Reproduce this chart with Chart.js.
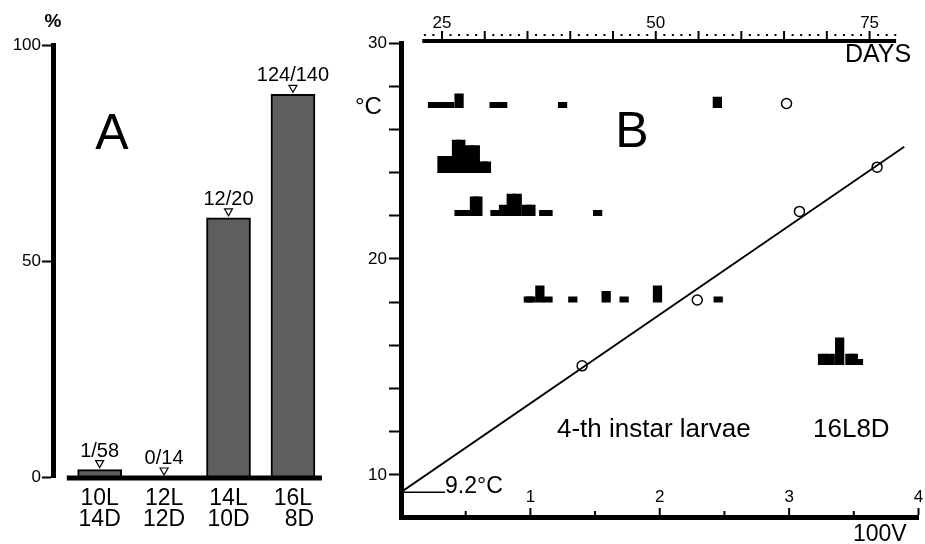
<!DOCTYPE html>
<html lang="en">
<head>
<meta charset="UTF-8">
<title>Photoperiod response and development of 4-th instar larvae</title>
<script src="https://cdn.jsdelivr.net/npm/chart.js"></script>
<style>
  body { margin: 0; background: #fff; font-family: 'Liberation Sans', Arial, sans-serif; }
  #wrap { position: relative; width: 925px; height: 544px; overflow: hidden; }
  #chartA { position: absolute; left: 0; top: 0; }
  #chartB { position: absolute; left: 340px; top: 0; }
  .note { position: absolute; color: #000; white-space: nowrap; line-height: 1; }
  .c { transform: translateX(-50%); }
</style>
</head>
<body>
<div id="wrap">
  <canvas id="chartA" width="340" height="544"></canvas>
  <canvas id="chartB" width="585" height="544"></canvas>

  <div class="note c" style="left:53px;top:11px;font-size:19px;font-weight:bold">%</div>
  <div class="note c" style="left:112px;top:107px;font-size:50px">A</div>
  <div class="note c" style="left:632px;top:105px;font-size:50px">B</div>
  <div class="note" style="left:355px;top:94px;font-size:24px">°C</div>
  <div class="note" style="left:845px;top:41px;font-size:25px">DAYS</div>
  <div class="note" style="left:853px;top:522px;font-size:23px">100V</div>
  <div class="note" style="left:445px;top:474px;font-size:23px">9.2°C</div>
  <div class="note" style="left:557px;top:415px;font-size:26px">4-th instar larvae</div>
  <div class="note" style="left:813px;top:415px;font-size:26px">16L8D</div>
</div>

<script>
    // ---- panel A : diapause (%) under four photoperiods ----
    const lightHours = ['10L', '12L', '14L', '16L'];
    const darkHours = ['14D', '12D', '10D', '\u20078D'];
    const diapauseCount = [1, 0, 12, 124];
    const sampleSize = [58, 14, 20, 140];
    const treatmentPos = [1, 2, 3, 4];
    const pctTicks = [0, 50, 100];

    // ---- panel B : development at 16L8D ----
    // open circles: velocity (100/days) against temperature
    const circleV = [1.40, 2.29, 3.08, 3.68, 2.98];
    const circleT = [15.05, 18.1, 22.2, 24.25, 27.2];
    // fitted line and threshold 9.2 °C
    const lineV = [0, 3.89];
    const lineT = [9.2, 25.2];
    const thresholdV = [0, 0.34];
    const thresholdT = [9.2, 9.2];
    // histograms of days needed, one per temperature (height = number of larvae)
    const histBaseT = [27, 24, 22, 18, 15.1];
    const hist27Days = [23.9, 24.9, 25.9, 27.0, 31.1, 32.1, 39.1, 57.2];
    const hist27Counts = [1, 1, 1, 2.6, 1, 1, 1, 2];
    const hist24Days = [25.0, 25.7, 26.7, 27.2, 28.2, 28.9, 29.8, 30.2];
    const hist24Counts = [3, 3, 6, 6, 5, 5, 2, 2];
    const hist22Days = [27.0, 27.8, 28.8, 29.2, 31.2, 32.2, 33.1, 33.8, 34.9, 35.4, 36.9, 37.4, 43.2];
    const hist22Counts = [1, 1, 3.5, 3.5, 1, 2, 4, 4, 2, 2, 1, 1, 1];
    const hist18Days = [35.1, 35.4, 36.45, 37.4, 40.3, 44.2, 46.3, 50.2, 57.3];
    const hist18Counts = [1, 1, 3, 1, 1, 2, 1, 3, 1];
    const hist15Days = [69.5, 70.4, 71.5, 72.7, 73.1, 73.7];
    const hist15Counts = [2, 2, 5, 2, 2, 1];

    const tempTicks = [10, 12, 14, 16, 18, 20, 22, 24, 26, 28, 30];
    const velocityTicks = [0.5, 1, 1.5, 2, 2.5, 3, 3.5, 4];
    const dayLabels = [25, 50, 75];
    const dayAxisFrom = 22.7, dayAxisTo = 78.1;

    const FONT = "'Liberation Sans', Arial, sans-serif";
    Chart.defaults.font.family = FONT;
    Chart.defaults.color = '#000';
    Chart.defaults.animation = false;
    Chart.defaults.plugins.legend.display = false;
    Chart.defaults.plugins.tooltip.enabled = false;

    const diapausePct = diapauseCount.map((n, i) => n / sampleSize[i] * 100);

    // thick baseline of panel A, shorter than the plot
    const baselineA = {
        id: 'baselineA',
        afterDatasetsDraw(chart) {
            const {ctx, scales: {x, y}} = chart;
            ctx.save();
            ctx.strokeStyle = '#000';
            ctx.lineWidth = 5;
            ctx.beginPath();
            ctx.moveTo(x.getPixelForValue(0.49), y.getPixelForValue(0) + 1);
            ctx.lineTo(x.getPixelForValue(4.45), y.getPixelForValue(0) + 1);
            ctx.stroke();
            ctx.restore();
        }
    };

    // "n/N" and small open triangle above every bar
    const barLabels = {
        id: 'barLabels',
        afterDatasetsDraw(chart) {
            const ctx = chart.ctx;
            const meta = chart.getDatasetMeta(0);
            ctx.save();
            ctx.fillStyle = '#000';
            ctx.strokeStyle = '#000';
            ctx.lineWidth = 1.2;
            ctx.font = '20px ' + FONT;
            ctx.textAlign = 'center';
            ctx.textBaseline = 'alphabetic';
            meta.data.forEach((bar, i) => {
                const x = bar.x, top = bar.y;
                ctx.beginPath();
                ctx.moveTo(x - 4, top - 9);
                ctx.lineTo(x + 4, top - 9);
                ctx.lineTo(x, top - 2);
                ctx.closePath();
                ctx.stroke();
                ctx.fillText(diapauseCount[i] + '/' + sampleSize[i], x, top - 13);
            });
            ctx.restore();
        }
    };

    new Chart(document.getElementById('chartA'), {
        type: 'bar',
        data: {
            datasets: [{
                data: treatmentPos.map((x, i) => ({x: x, y: diapausePct[i]})),
                backgroundColor: '#5e5e5e',
                borderColor: '#000',
                borderWidth: 2,
                barThickness: 44
            }]
        },
        options: {
            responsive: false,
            layout: {padding: {left: 0, top: 45, right: 10, bottom: 0}},
            scales: {
                x: {
                    type: 'linear', min: 0.276, max: 4.575, offset: false,
                    afterFit: s => { s.height = 67; },
                    afterBuildTicks: s => { s.ticks = treatmentPos.map(v => ({value: v})); },
                    grid: {display: false, drawTicks: false, tickLength: 0, offset: false},
                    border: {display: false},
                    ticks: {
                        padding: 11, autoSkip: false, maxRotation: 0,
                        font: {size: 23, lineHeight: 0.92},
                        callback: (v, i) => [lightHours[i], darkHours[i]]
                    }
                },
                y: {
                    min: 0, max: 100,
                    afterFit: s => { s.width = 53; },
                    afterBuildTicks: s => { s.ticks = pctTicks.map(v => ({value: v})); },
                    grid: {drawOnChartArea: false, tickLength: 11, tickWidth: 2, tickColor: '#000'},
                    border: {color: '#000', width: 5},
                    ticks: {padding: 1, font: {size: 17}}
                }
            }
        },
        plugins: [baselineA, barLabels]
    });

    // upper DAYS axis (dotted every day, tick every 5 days) and the
    // inward ticks / labels of the lower 100V axis
    const extraAxes = {
        id: 'extraAxes',
        afterDraw(chart) {
            const ctx = chart.ctx, s = chart.scales.xd, v = chart.scales.xv;
            const yLine = 41;
            ctx.save();
            ctx.strokeStyle = '#000';
            ctx.fillStyle = '#000';
            ctx.lineWidth = 4;
            ctx.beginPath();
            ctx.moveTo(s.getPixelForValue(dayAxisFrom), yLine);
            ctx.lineTo(s.getPixelForValue(dayAxisTo), yLine);
            ctx.stroke();
            ctx.lineWidth = 2;
            for (let d = Math.ceil(dayAxisFrom); d <= dayAxisTo; d++) {
                const x = s.getPixelForValue(d);
                if (d % 5 === 0) {
                    ctx.beginPath();
                    ctx.moveTo(x, yLine);
                    ctx.lineTo(x, yLine - 10);
                    ctx.stroke();
                } else {
                    ctx.fillRect(x - 1, yLine - 7, 2, 2);
                }
            }
            ctx.font = '17px ' + FONT;
            ctx.textAlign = 'center';
            ctx.textBaseline = 'middle';
            dayLabels.forEach(d => ctx.fillText(String(d), s.getPixelForValue(d), 23));

            const yBase = v.top - 2;
            velocityTicks.forEach(t => {
                const x = v.getPixelForValue(t);
                const major = Number.isInteger(t);
                ctx.beginPath();
                ctx.moveTo(x, yBase);
                ctx.lineTo(x, yBase - (major ? 7 : 4));
                ctx.stroke();
                if (major) ctx.fillText(String(t), x, 497);
            });
            ctx.restore();
        }
    };

    const unitT = 0.25;  // °C of plot height for one larva
    function histDataset(base, days, counts) {
        return {
            type: 'bar', xAxisID: 'xd', yAxisID: 'y',
            grouped: false, barThickness: 8.6,
            backgroundColor: '#000', borderWidth: 0,
            data: days.map((d, i) => ({x: d, y: [base, base + counts[i] * unitT]}))
        };
    }

    new Chart(document.getElementById('chartB'), {
        type: 'bar',
        data: {
            datasets: [
                histDataset(histBaseT[0], hist27Days, hist27Counts),
                histDataset(histBaseT[1], hist24Days, hist24Counts),
                histDataset(histBaseT[2], hist22Days, hist22Counts),
                histDataset(histBaseT[3], hist18Days, hist18Counts),
                histDataset(histBaseT[4], hist15Days, hist15Counts),
                {
                    type: 'line', xAxisID: 'xv', yAxisID: 'y',
                    data: lineV.map((v, i) => ({x: v, y: lineT[i]})),
                    borderColor: '#000', borderWidth: 1.8, pointRadius: 0, fill: false
                },
                {
                    type: 'line', xAxisID: 'xv', yAxisID: 'y',
                    data: thresholdV.map((v, i) => ({x: v, y: thresholdT[i]})),
                    borderColor: '#000', borderWidth: 1.5, pointRadius: 0, fill: false
                },
                {
                    type: 'scatter', xAxisID: 'xv', yAxisID: 'y',
                    data: circleV.map((v, i) => ({x: v, y: circleT[i]})),
                    pointRadius: 5, pointBackgroundColor: '#fff',
                    pointBorderColor: '#000', pointBorderWidth: 1.5
                }
            ]
        },
        options: {
            responsive: false,
            layout: {padding: {left: 0, top: 43, right: 6, bottom: 0}},
            scales: {
                xd: {
                    type: 'linear', position: 'top', display: false,
                    min: 20.21, max: 80.72, offset: false,
                    grid: {offset: false}
                },
                xv: {
                    type: 'linear', position: 'bottom', min: 0, max: 4, offset: false,
                    afterFit: s => { s.height = 27; },
                    grid: {display: false, drawTicks: false, offset: false},
                    border: {color: '#000', width: 5},
                    ticks: {display: false}
                },
                y: {
                    type: 'linear', position: 'left', min: 8.05, max: 30,
                    afterFit: s => { s.width = 61; },
                    afterBuildTicks: s => { s.ticks = tempTicks.map(v => ({value: v})); },
                    grid: {drawOnChartArea: false, tickLength: 12, tickWidth: 2, tickColor: '#000'},
                    border: {color: '#000', width: 5},
                    ticks: {
                        padding: 2, font: {size: 17},
                        callback: v => v % 10 === 0 ? String(v) : ''
                    }
                }
            }
        },
        plugins: [extraAxes]
    });
</script>
</body>
</html>
